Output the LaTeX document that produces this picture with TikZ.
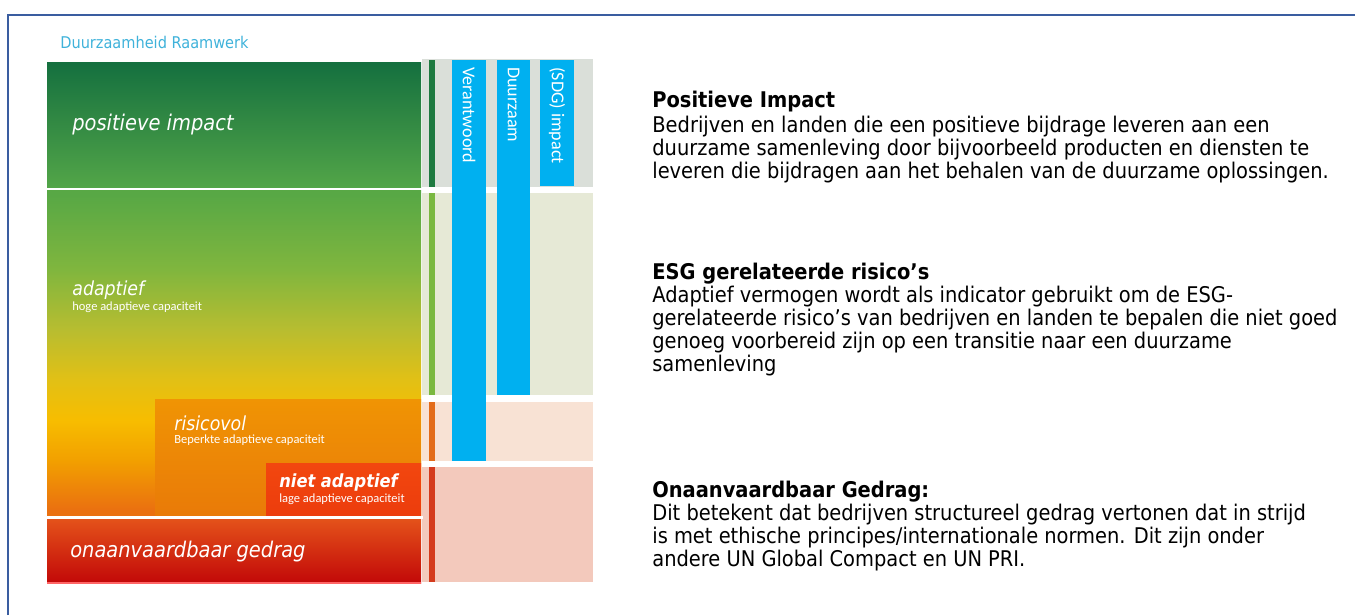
\documentclass[tikz,border=0pt]{standalone}
\usepackage{fontspec}
\setmainfont{DejaVu Sans Condensed}
\newfontfamily\barfont{Carlito}
\usetikzlibrary{positioning}
\definecolor{framecolor}{HTML}{3A5DA0}
\definecolor{titlecolor}{HTML}{3FB2DA}
\definecolor{barblue}{HTML}{00B0F0}
\definecolor{posdark}{HTML}{15703F}
\definecolor{poslight}{HTML}{52A548}
\definecolor{riskhi}{HTML}{F09404}
\definecolor{risklo}{HTML}{E97A08}
\definecolor{niethi}{HTML}{F2470F}
\definecolor{nietlo}{HTML}{EC3C0C}
\definecolor{onahi}{HTML}{E4521A}
\definecolor{onalo}{HTML}{C20808}
\definecolor{stripA}{HTML}{1E7A40}
\definecolor{stripB}{HTML}{7AB840}
\definecolor{stripC}{HTML}{E36C1A}
\definecolor{stripD}{HTML}{D43A1C}
\definecolor{backA}{HTML}{DADFD9}
\definecolor{backB}{HTML}{E6E9D6}
\definecolor{backC}{HTML}{F8E2D4}
\definecolor{backD}{HTML}{F3C9BC}
\definecolor{adA}{HTML}{58A845}
\definecolor{adB}{HTML}{80B63E}
\definecolor{adC}{HTML}{B8BD30}
\definecolor{adD}{HTML}{E2C015}
\definecolor{adE}{HTML}{F7BD00}
\definecolor{adF}{HTML}{F2A000}
\definecolor{adG}{HTML}{EA7010}
\pgfdeclareverticalshading{adaptshade}{100bp}{color(0bp)=(adG); color(26bp)=(adG);
  color(33.7bp)=(adF); color(39.8bp)=(adE); color(45.9bp)=(adD); color(53.6bp)=(adC);
  color(62.8bp)=(adB); color(74.2bp)=(adA); color(100bp)=(adA)}

\begin{document}
\begin{tikzpicture}[
    x=0.02cm, y=-0.02cm,
    blocktext/.style={anchor=west, text=white, inner sep=0pt, align=left},
    bigtext/.style={blocktext, font=\itshape\fontsize{12.3}{14}\selectfont},
    midtext/.style={blocktext, font=\itshape\fontsize{11}{12}\selectfont},
    subtext/.style={font=\barfont\fontsize{7.1}{8}\selectfont},
    bartext/.style={anchor=west, rotate=-90, text=white, inner sep=0pt, font=\barfont\fontsize{10.3}{11}\selectfont},
    infotext/.style={anchor=north west, inner sep=0pt, align=left, font=\fontsize{12.3}{13}\selectfont}
]
    \useasboundingbox (0,0) rectangle (1355,615);
    % frame
    \draw[framecolor, line width=1.6pt] (8,615) -- (8,15) -- (1355,15);

    % background columns
    \fill[backA] (422,59) rectangle (593,187);
    \fill[backB] (422,193) rectangle (593,395);
    \fill[backC] (422,402) rectangle (593,461);
    \fill[backD] (422,467) rectangle (593,582);
    \fill[stripA] (429,60) rectangle (435,187);
    \fill[stripB] (429,193) rectangle (435,395);
    \fill[stripC] (429,402) rectangle (435,461);
    \fill[stripD] (429,467) rectangle (435,582);

    % main blocks
    \shade[top color=posdark, bottom color=poslight] (47,63) rectangle (421,187);
    \shade[shading=adaptshade] (47,190) rectangle (421,517);
    \shade[top color=riskhi, bottom color=risklo] (155,399) rectangle (421,517);
    \shade[top color=niethi, bottom color=nietlo] (266,463) rectangle (421,517);
    \shade[top color=onahi, bottom color=onalo] (47,519) rectangle (421,583);
    \draw[white, line width=1.2pt] (47,517.5) -- (423,517.5);
    \draw[red!60!white, line width=0.8pt] (47,583) -- (421,583);

    % blue bars
    \fill[barblue] (452,60) rectangle (486,461);
    \fill[barblue] (497,60) rectangle (530,395);
    \fill[barblue] (540,60) rectangle (574,186);
    \node[bartext] (verant) at (469,67) {Verantwoord};
    \node[bartext] (duurz) at (513.5,67) {Duurzaam};
    \node[bartext] (sdg) at (557,67) {(SDG) impact};

    % labels
    \node[anchor=west, inner sep=0pt, text=titlecolor, font=\fontsize{9.2}{11}\selectfont] (title) at (60,42) {Duurzaamheid Raamwerk};
    \node[bigtext] (posimp) at (72,125) {positieve impact};
    \node[midtext] (adapt) at (72,290) {adaptief};
    \node[blocktext, subtext] (adaptsub) at (72,307) {hoge adaptieve capaciteit};
    \node[midtext] (risico) at (174,423) {risicovol};
    \node[blocktext, subtext] (risicosub) at (174,440) {Beperkte adaptieve capaciteit};
    \node[blocktext, font=\bfseries\itshape\fontsize{10.3}{11}\selectfont] (niet) at (279,483) {niet adaptief};
    \node[blocktext, subtext] (nietsub) at (279,499) {lage adaptieve capaciteit};
    \node[bigtext] (onaan) at (70,552) {onaanvaardbaar gedrag};

    % explanations
    \node[infotext] (posinfo) at (652,91) {\textbf{Positieve Impact}\\[1pt]
        Bedrijven en landen die een positieve bijdrage leveren aan een\\
        duurzame samenleving door bijvoorbeeld producten en diensten te\\
        leveren die bijdragen aan het behalen van de duurzame oplossingen.};
    \node[infotext] (esginfo) at (652,263) {\textbf{ESG gerelateerde risico’s}\\
        Adaptief vermogen wordt als indicator gebruikt om de ESG-\\
        gerelateerde risico's van bedrijven en landen te bepalen die niet goed\\
        genoeg voorbereid zijn op een transitie naar een duurzame\\
        samenleving};
    \node[infotext] (onainfo) at (652,481) {\textbf{Onaanvaardbaar Gedrag:}\\
        Dit betekent dat bedrijven structureel gedrag vertonen dat in strijd\\
        is met ethische principes/internationale normen. Dit zijn onder\\
        andere UN Global Compact en UN PRI.};
\end{tikzpicture}
\end{document}
